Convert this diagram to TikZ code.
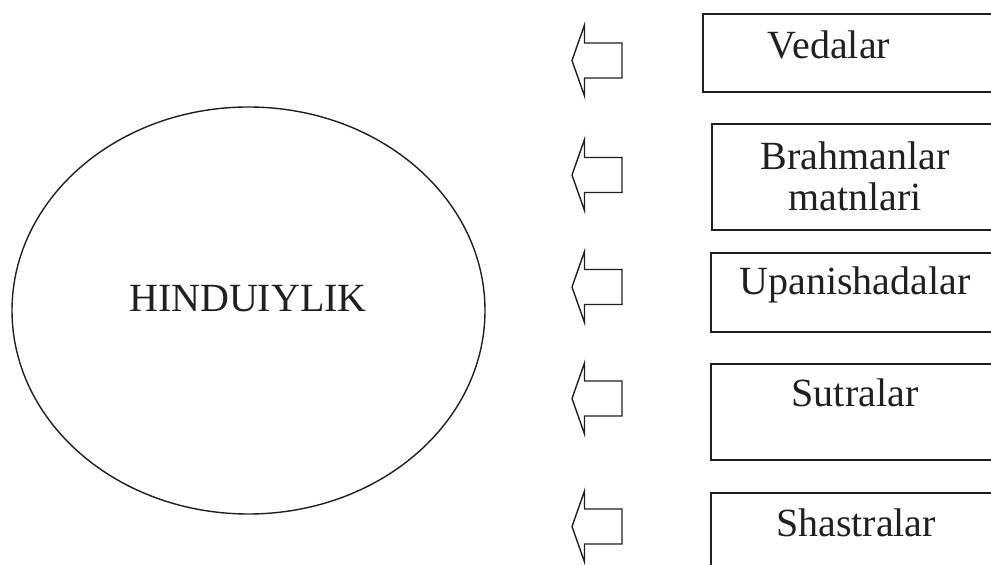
\documentclass[tikz,border=0pt]{standalone}
\usepackage{fontspec}
\setmainfont{Liberation Serif}
\usepackage{xcolor}
\usepackage{tikz}
\usetikzlibrary{shapes.geometric}
\definecolor{ink}{HTML}{231F20}

\begin{document}
\begin{tikzpicture}[x=0.5pt,y=-0.5pt,
  lbl/.style={font=\fontsize{20}{20.7}\selectfont,ink},
  srcbox/.style={draw=ink,line width=.8pt,rectangle,anchor=north west,inner sep=0pt},
  oval/.style={draw=ink,line width=.7pt,ellipse,inner sep=0pt}]
\clip (0,0) rectangle (991,565);

% the religion
\node[oval,minimum width=236.5pt,minimum height=203.5pt] (hindu) at (248.5,310.5) {};
\node[lbl,anchor=base] (hindutxt) at (248,312) {HINDUIYLIK};

% source boxes, cut by the right edge
\foreach \n/\l/\t/\b in {ved/702/13/91,brah/711/123/229,upan/710/252/331,
    sutra/710/363/459,shas/710/492/600}
  \node[srcbox,minimum width={(1010-\l)*0.5pt},minimum height={(\b-\t)*0.5pt}]
    (\n) at (\l,\t) {};
\node[lbl,anchor=base] (vedtxt) at (829,58.3) {Vedalar};
\node[lbl,align=center] (brahtxt) at (855,176.4) {Brahmanlar\\matnlari};
\node[lbl,anchor=base] (upantxt) at (855,295) {Upanishadalar};
\node[lbl,anchor=base] (sutratxt) at (855,406.7) {Sutralar};
\node[lbl,anchor=base] (shastxt) at (856,536.7) {Shastralar};

% block arrows
\foreach \y in {60.5,175,287,398.5,526.5}
  \draw[ink,line width=.7pt,line join=miter]
    (572,\y) -- (584.5,\y-35.5) -- (584.5,\y-17.5) -- (622,\y-17.5)
    -- (622,\y+17.5) -- (584.5,\y+17.5) -- (584.5,\y+35.5) -- cycle;
\end{tikzpicture}
\end{document}
